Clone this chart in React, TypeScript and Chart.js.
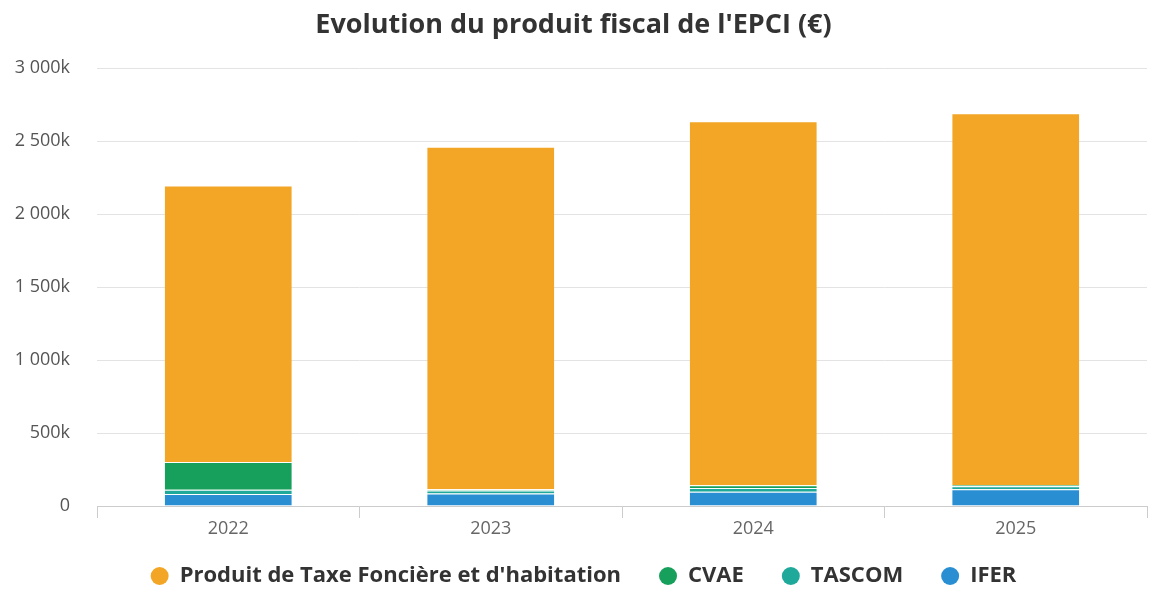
import React, { useEffect, useRef } from "react";
import { Chart, registerables } from "chart.js";

Chart.register(...registerables);

const categories = ["2022", "2023", "2024", "2025"];
// values in k€
const produitTaxe = [1893, 2346, 2493, 2546];
const cvae = [190, 8, 19, 8];
const tascom = [30, 20, 25, 22];
const ifer = [82, 86, 98, 114];
const yTicks = [0, 500, 1000, 1500, 2000, 2500, 3000];

const COLORS = {
  produit: "#F3A626",
  cvae: "#17A05B",
  tascom: "#1FA99A",
  ifer: "#2A8FD2",
};

function fmtK(v: number): string {
  if (v === 0) return "0";
  return String(v).replace(/\B(?=(\d{3})+(?!\d))/g, " ") + "k";
}

export default function App() {
  const ref = useRef<HTMLCanvasElement | null>(null);

  useEffect(() => {
    if (!ref.current) return;
    const seg = { top: 1, bottom: 0, left: 0, right: 0 };
    const legendFix = {
      id: "legendFix",
      beforeInit(chart: any) {
        const lg = chart.legend;
        if (lg) {
          const orig = lg.fit.bind(lg);
          lg.fit = function () {
            orig();
            this.height = 49;
          };
        }
      },
      afterLayout(chart: any) {
        const lg = chart.legend;
        if (lg) {
          lg.top = 527;
          lg.bottom = 589;
          lg.left += 10;
          lg.right += 10;
        }
      },
    };
    const chart = new Chart(ref.current, {
      type: "bar",
      data: {
        labels: categories,
        datasets: [
          { label: "IFER", data: ifer, backgroundColor: COLORS.ifer, borderColor: "#ffffff", borderWidth: seg, borderSkipped: false },
          { label: "TASCOM", data: tascom, backgroundColor: COLORS.tascom, borderColor: "#ffffff", borderWidth: seg, borderSkipped: false },
          { label: "CVAE", data: cvae, backgroundColor: COLORS.cvae, borderColor: "#ffffff", borderWidth: seg, borderSkipped: false },
          { label: "Produit de Taxe Foncière et d'habitation", data: produitTaxe, backgroundColor: COLORS.produit, borderColor: "#ffffff", borderWidth: seg, borderSkipped: false },
        ],
      },
      options: {
        responsive: false,
        animation: false,
        layout: { padding: { left: 0, right: 4, top: 0, bottom: 0 } },
        datasets: { bar: { barPercentage: 0.484, categoryPercentage: 1 } },
        scales: {
          x: {
            stacked: true,
            grid: { offset: true, drawOnChartArea: false, drawTicks: true, tickLength: 12, color: "#cccccc" },
            border: { display: true, color: "#cccccc" },
            ticks: { padding: 0, color: "#666666", font: { family: "'Open Sans'", size: 18 } },
            afterFit(scale: any) {
              scale.height = 34;
            },
          },
          y: {
            stacked: true,
            min: 0,
            max: 3000,
            afterBuildTicks(scale: any) {
              scale.ticks = yTicks.map((v) => ({ value: v }));
            },
            grid: { color: "#e3e3e3", drawTicks: false },
            border: { display: false },
            ticks: {
              padding: 27,
              color: "#555555",
              font: { family: "'Open Sans'", size: 18 },
              callback: (v: any) => fmtK(Number(v)),
            },
            afterFit(scale: any) {
              scale.width = 97;
            },
          },
        },
        plugins: {
          title: {
            display: true,
            text: "Evolution du produit fiscal de l'EPCI (€)",
            color: "#333333",
            font: { family: "'Open Sans'", size: 27, weight: "bold" },
            padding: { top: 9, bottom: 26.6 },
          },
          legend: {
            position: "bottom",
            reverse: true,
            labels: {
              usePointStyle: true,
              pointStyle: "circle",
              pointStyleWidth: 18,
              boxHeight: 12.7,
              padding: 38,
              color: "#333333",
              font: { family: "'Open Sans'", size: 22, weight: "bold" },
              generateLabels(chart: any) {
                const items = Chart.defaults.plugins.legend.labels.generateLabels(chart);
                return items.map((it: any) => ({ ...it, strokeStyle: it.fillStyle, lineWidth: 0 }));
              },
            },
          },
          tooltip: { enabled: false },
        },
      },
      plugins: [legendFix],
    } as any);
    return () => chart.destroy();
  }, []);

  return (
    <div style={{ position: "absolute", left: 0, top: 0, width: 1151, height: 589, background: "#ffffff" }}>
      <canvas ref={ref} width={1151} height={589} />
    </div>
  );
}
